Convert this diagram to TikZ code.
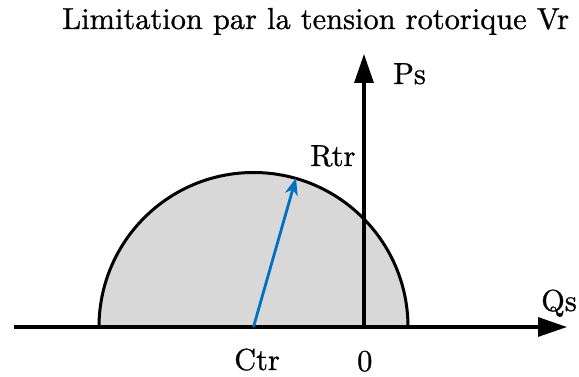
\documentclass[tikz,border=0pt]{standalone}
\usepackage{fontspec}
\setmainfont{lmroman10-regular}[Extension=.otf,FakeBold=0.8]
\usetikzlibrary{arrows.meta}
\definecolor{vecblue}{RGB}{0,112,192}
\definecolor{fillgray}{RGB}{216,216,216}
\begin{document}
\begin{tikzpicture}[x=1pt,y=-1pt,
  lbl/.style={inner sep=0pt,font=\fontsize{30.4}{34}\selectfont\bfseries},
  axis/.style={line width=3.2pt,-{Triangle[length=29pt,width=19pt]}},
  vec/.style={vecblue,line width=2.8pt,-{Stealth[length=17pt,width=13pt,inset=5pt]}}]
\useasboundingbox (0,0) rectangle (579,377);
\coordinate (ctr) at (253.5,327);
\coordinate (axl) at (14,327);
\coordinate (axr) at (567,327);
\coordinate (orig) at (364,327);
\coordinate (ptop) at (364,54);
\fill[fillgray] (99,327) arc[start angle=180,end angle=360,radius=154.5] -- cycle;
\draw[line width=3pt] (99,327) arc[start angle=180,end angle=360,radius=154.5];
\draw[axis] (axl) -- (axr);
\draw[axis] (orig) -- (ptop);
\coordinate (rtip) at (296,178);
\draw[vec] (ctr) -- (rtip);
\node[lbl,anchor=base west] (title) at (62,29) {Limitation par la tension rotorique Vr};
\node[lbl,anchor=base west] (ps) at (393,84) {Ps};
\node[lbl,anchor=base west] (rtr) at (310,166) {Rtr};
\node[lbl,anchor=base west] (qs) at (541,311) {Qs};
\node[lbl,anchor=base west] (ctrl) at (234,370) {Ctr};
\node[lbl,anchor=base west] (zero) at (357,371) {0};
\end{tikzpicture}
\end{document}
